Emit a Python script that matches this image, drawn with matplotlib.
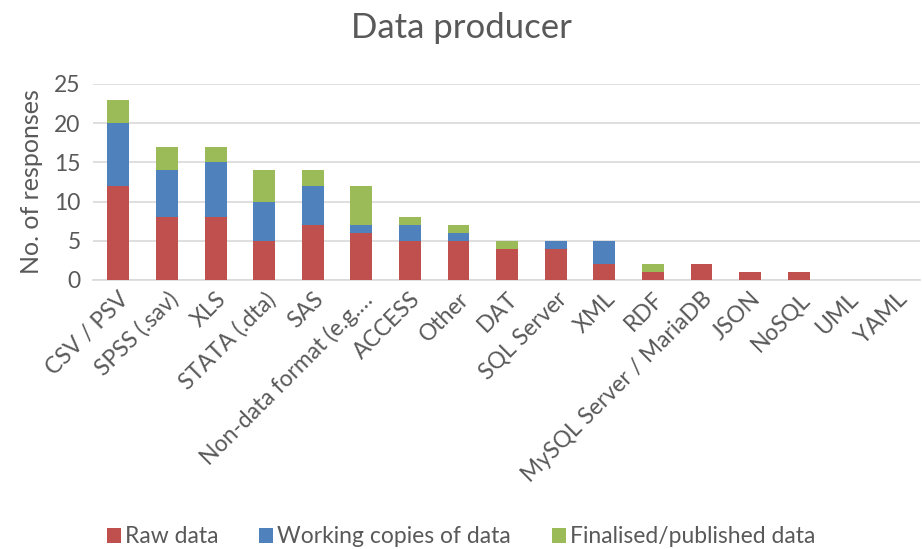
import matplotlib

matplotlib.use("Agg")

import matplotlib.pyplot as plt
import numpy as np

categories = [
    "CSV / PSV", "SPSS (.sav)", "XLS", "STATA (.dta)", "SAS",
    "Non-data format (e.g.\u2026", "ACCESS", "Other", "DAT", "SQL Server",
    "XML", "RDF", "MySQL Server / MariaDB", "JSON", "NoSQL", "UML", "YAML",
]
raw_data = [12, 8, 8, 5, 7, 6, 5, 5, 4, 4, 2, 1, 2, 1, 1, 0, 0]
working_copies = [8, 6, 7, 5, 5, 1, 2, 1, 0, 1, 3, 0, 0, 0, 0, 0, 0]
finalised = [3, 3, 2, 4, 2, 5, 1, 1, 1, 0, 0, 1, 0, 0, 0, 0, 0]
y_ticks = [0, 5, 10, 15, 20, 25]

plt.rcParams["font.family"] = ["Lato", "DejaVu Sans"]
text_color = "#595959"

fig = plt.figure(figsize=(9.22, 5.49), dpi=100)
ax = fig.add_axes([0.101, 0.49, 0.897, 0.357])

x = np.arange(len(categories))
raw = np.array(raw_data)
work = np.array(working_copies)
fin = np.array(finalised)
w = 0.45
ax.bar(x, raw, w, color="#C0504D", label="Raw data", zorder=3)
ax.bar(x, work, w, bottom=raw, color="#4F81BD", label="Working copies of data", zorder=3)
ax.bar(x, fin, w, bottom=raw + work, color="#9BBB59", label="Finalised/published data", zorder=3)

ax.set_ylim(0, 25)
ax.set_xlim(-0.52, len(categories) - 0.5)
ax.set_yticks(y_ticks)
ax.yaxis.grid(True, color="#D9D9D9", linewidth=1.2, zorder=0)
for side in ["top", "right", "left"]:
    ax.spines[side].set_visible(False)
ax.spines["bottom"].set_color("#D9D9D9")
ax.spines["bottom"].set_linewidth(1.2)
ax.tick_params(axis="both", length=0, colors=text_color, labelsize=16.5)
ax.tick_params(axis="y", pad=9)
ax.set_xticks(x)
ax.set_xticklabels(categories, rotation=45, ha="right", rotation_mode="anchor")
ax.tick_params(axis="x", pad=6)
ax.set_ylabel("No. of responses", fontsize=18, color=text_color, labelpad=8)

fig.text(0.5, 0.949, "Data producer", ha="center", va="center", fontsize=25, color=text_color)

handles, labels = ax.get_legend_handles_labels()
fig.legend(handles, labels, loc="center", bbox_to_anchor=(0.5, 0.022), ncol=3, frameon=False,
           fontsize=16.5, labelcolor=text_color, handlelength=0.6, handleheight=0.6,
           handletextpad=0.17, columnspacing=1.8)

fig.savefig("out.png")
